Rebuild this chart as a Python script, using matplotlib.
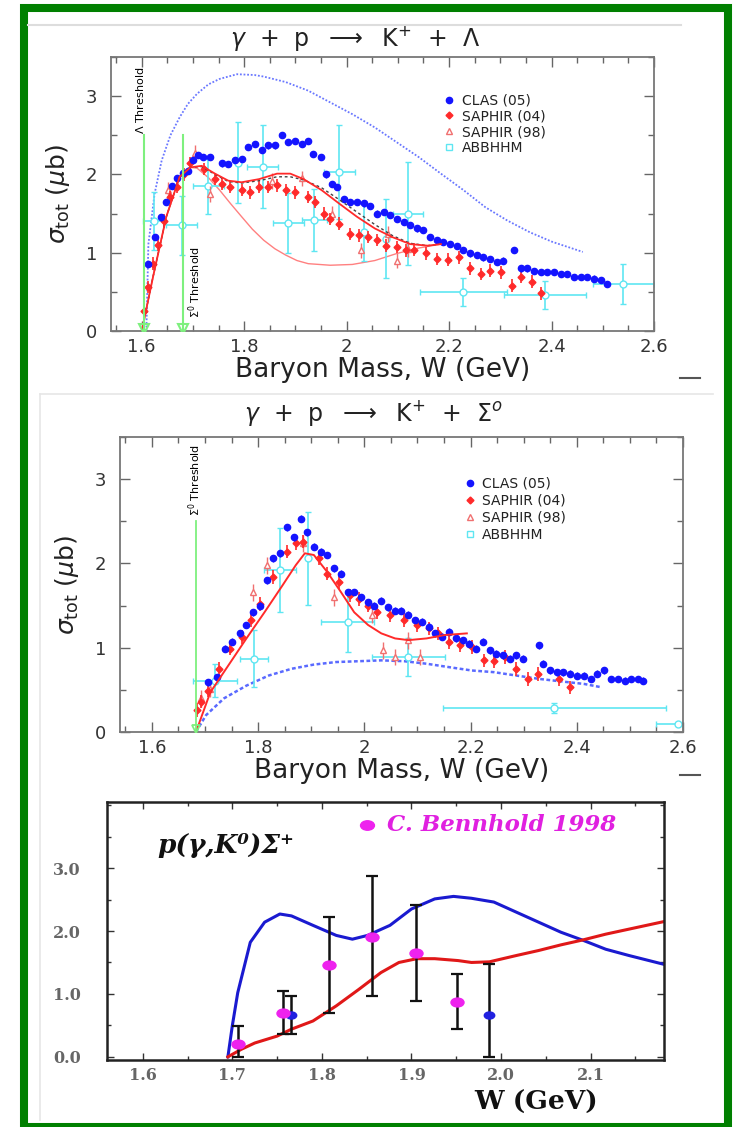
import matplotlib.pyplot as plt
from matplotlib.lines import Line2D
from matplotlib.markers import MarkerStyle
from matplotlib.patches import Rectangle
from matplotlib.ticker import MultipleLocator, FixedLocator, FuncFormatter
from matplotlib.transforms import Affine2D

W_PX, H_PX = 737, 1127

# ---------------- panel 1: gamma p -> K+ Lambda ----------------
lam_clas_w = [1.613, 1.626, 1.637, 1.648, 1.659, 1.669, 1.68, 1.69, 1.70, 1.71, 1.72, 1.734,
              1.756, 1.769, 1.782, 1.795, 1.808, 1.821, 1.834, 1.847, 1.86, 1.873, 1.886,
              1.899, 1.912, 1.925, 1.935, 1.949, 1.959, 1.972, 1.981, 1.994, 2.007, 2.02,
              2.033, 2.046, 2.059, 2.072, 2.085, 2.098, 2.111, 2.124, 2.137, 2.15, 2.163,
              2.176, 2.189, 2.202, 2.215, 2.228, 2.241, 2.254, 2.267, 2.28, 2.293, 2.306,
              2.327, 2.34, 2.353, 2.366, 2.379, 2.392, 2.405, 2.418, 2.431, 2.444, 2.457,
              2.47, 2.483, 2.496, 2.509]
lam_clas_s = [0.86, 1.2, 1.45, 1.65, 1.85, 1.95, 2.02, 2.05, 2.18, 2.25, 2.22, 2.22,
              2.14, 2.13, 2.18, 2.2, 2.35, 2.39, 2.31, 2.37, 2.37, 2.5, 2.41,
              2.43, 2.39, 2.43, 2.26, 2.22, 2.0, 1.88, 1.84, 1.69, 1.65, 1.65,
              1.63, 1.6, 1.5, 1.52, 1.48, 1.43, 1.39, 1.35, 1.31, 1.29, 1.2,
              1.16, 1.14, 1.11, 1.09, 1.03, 0.99, 0.97, 0.94, 0.92, 0.88, 0.9,
              1.03, 0.8, 0.8, 0.77, 0.75, 0.75, 0.75, 0.73, 0.73, 0.69, 0.69,
              0.69, 0.67, 0.65, 0.6]
lam_saph04_w = [1.604, 1.613, 1.622, 1.632, 1.643, 1.656, 1.669, 1.682, 1.695, 1.721, 1.743,
                1.756, 1.773, 1.795, 1.812, 1.829, 1.847, 1.864, 1.881, 1.899, 1.925, 1.938,
                1.955, 1.968, 1.985, 2.007, 2.024, 2.042, 2.059, 2.076, 2.098, 2.115, 2.132,
                2.154, 2.176, 2.197, 2.219, 2.241, 2.262, 2.28, 2.301, 2.323, 2.34, 2.362,
                2.379]
lam_saph04_s = [0.26, 0.56, 0.86, 1.1, 1.41, 1.71, 1.84, 2.0, 2.14, 2.07, 1.94,
                1.88, 1.84, 1.8, 1.77, 1.84, 1.84, 1.86, 1.8, 1.77, 1.71, 1.65,
                1.5, 1.43, 1.37, 1.24, 1.22, 1.2, 1.16, 1.09, 1.07, 1.03, 1.04,
                0.99, 0.92, 0.91, 0.94, 0.8, 0.73, 0.77, 0.75, 0.58, 0.69, 0.63,
                0.48]
lam_saph98_w = [1.652, 1.704, 1.734, 1.855, 1.912, 1.972, 2.029, 2.081, 2.098, 2.12]
lam_saph98_s = [1.8, 2.28, 1.75, 1.92, 1.95, 1.5, 1.03, 1.24, 0.9, 1.05]
lam_abb_w = [1.623, 1.678, 1.73, 1.788, 1.836, 1.886, 1.937, 1.986, 2.033, 2.077, 2.12, 2.228, 2.388, 2.54]
lam_abb_s = [1.40, 1.35, 1.85, 2.15, 2.1, 1.38, 1.42, 2.03, 1.26, 1.18, 1.5, 0.5, 0.46, 0.6]
lam_abb_werr = [0.02, 0.03, 0.03, 0.0, 0.03, 0.03, 0.025, 0.03, 0.0, 0.0, 0.03, 0.085, 0.08, 0.06]
lam_abb_serr = [0.37, 0.38, 0.35, 0.52, 0.53, 0.38, 0.4, 0.6, 0.36, 0.5, 0.66, 0.18, 0.18, 0.26]

lam_model_w = [1.609, 1.613, 1.625, 1.639, 1.656, 1.674, 1.69, 1.708, 1.73, 1.752, 1.786, 1.82,
               1.838, 1.881, 1.925, 1.968, 2.011, 2.055, 2.098, 2.141, 2.184, 2.228, 2.271,
               2.314, 2.358, 2.401, 2.461]
lam_model_s = [0.0, 1.11, 1.75, 2.18, 2.5, 2.73, 2.9, 3.03, 3.15, 3.22, 3.28, 3.27,
               3.25, 3.18, 3.07, 2.92, 2.77, 2.6, 2.41, 2.22, 2.01, 1.8, 1.58,
               1.41, 1.26, 1.14, 1.01]
lam_fit_w = [1.60, 1.622, 1.648, 1.674, 1.695, 1.717, 1.743, 1.769, 1.795, 1.829, 1.864, 1.89,
             1.916, 1.951, 1.985, 2.02, 2.055, 2.089, 2.124, 2.158, 2.184]
lam_fit_s = [0.0, 0.69, 1.46, 1.97, 2.09, 2.11, 2.01, 1.92, 1.9, 1.94, 2.01, 2.01,
             1.94, 1.8, 1.63, 1.46, 1.31, 1.2, 1.11, 1.09, 1.11]
lam_fit2_s = [0.0, 0.69, 1.46, 1.97, 2.09, 2.1, 2.0, 1.91, 1.89, 1.92, 1.97, 1.97,
              1.93, 1.83, 1.68, 1.52, 1.36, 1.22, 1.12, 1.09, 1.11]
lam_low_w = [1.60, 1.622, 1.648, 1.674, 1.695, 1.708, 1.73, 1.752, 1.773, 1.795, 1.816, 1.838,
             1.86, 1.881, 1.903, 1.925, 1.968, 2.011, 2.055, 2.098, 2.141, 2.184]
lam_low_s = [0.0, 0.69, 1.46, 1.97, 2.09, 2.08, 1.96, 1.8, 1.63, 1.46, 1.3, 1.16,
             1.05, 0.97, 0.9, 0.86, 0.84, 0.85, 0.9, 0.99, 1.06, 1.11]

# ---------------- panel 2: gamma p -> K+ Sigma0 ----------------
sig_clas_w = [1.706, 1.723, 1.737, 1.751, 1.765, 1.778, 1.791, 1.803, 1.816, 1.829, 1.842, 1.854,
              1.867, 1.88, 1.892, 1.905, 1.918, 1.93, 1.943, 1.956, 1.969, 1.981, 1.994, 2.007,
              2.019, 2.032, 2.045, 2.058, 2.07, 2.083, 2.096, 2.108, 2.121, 2.134, 2.147, 2.159,
              2.172, 2.185, 2.197, 2.21, 2.223, 2.236, 2.248, 2.261, 2.274, 2.286, 2.299, 2.329,
              2.337, 2.35, 2.363, 2.375, 2.388, 2.4, 2.414, 2.426, 2.439, 2.452, 2.464, 2.477,
              2.49, 2.503, 2.515, 2.524]
sig_clas_s = [0.59, 0.65, 0.99, 1.07, 1.17, 1.27, 1.42, 1.5, 1.8, 2.06, 2.12, 2.43,
              2.31, 2.53, 2.37, 2.2, 2.14, 2.1, 1.94, 1.88, 1.66, 1.66, 1.6, 1.54,
              1.5, 1.56, 1.48, 1.44, 1.44, 1.39, 1.33, 1.31, 1.25, 1.17, 1.13, 1.19,
              1.11, 1.09, 1.05, 0.99, 1.07, 0.97, 0.93, 0.91, 0.87, 0.91, 0.87, 1.03,
              0.81, 0.73, 0.71, 0.71, 0.69, 0.67, 0.67, 0.63, 0.69, 0.73, 0.63, 0.63,
              0.61, 0.63, 0.63, 0.61]
sig_saph04_w = [1.685, 1.693, 1.706, 1.727, 1.748, 1.769, 1.786, 1.803, 1.829, 1.854, 1.871, 1.884,
                1.914, 1.93, 1.952, 1.973, 1.99, 2.007, 2.024, 2.049, 2.075, 2.1, 2.121, 2.138,
                2.159, 2.18, 2.202, 2.225, 2.244, 2.265, 2.286, 2.308, 2.327, 2.367, 2.388]
sig_saph04_s = [0.26, 0.36, 0.49, 0.75, 0.99, 1.13, 1.33, 1.52, 1.84, 2.14, 2.24, 2.26,
                2.06, 1.88, 1.78, 1.62, 1.58, 1.5, 1.42, 1.39, 1.33, 1.27, 1.23, 1.17,
                1.07, 1.03, 1.01, 0.85, 0.84, 0.89, 0.75, 0.63, 0.69, 0.63, 0.53]
sig_saph98_w = [1.693, 1.71, 1.79, 1.816, 1.884, 1.943, 2.015, 2.036, 2.058, 2.083, 2.104]
sig_saph98_s = [0.4, 0.51, 1.66, 1.98, 2.24, 1.6, 1.39, 0.97, 0.89, 1.09, 0.89]
sig_abb_w = [1.719, 1.792, 1.842, 1.894, 1.969, 2.083, 2.358, 2.59]
sig_abb_s = [0.61, 0.87, 1.92, 2.06, 1.31, 0.89, 0.28, 0.09]
sig_abb_werr = [0.042, 0.027, 0.03, 0.0, 0.05, 0.068, 0.21, 0.04]
sig_abb_serr = [0.2, 0.34, 0.5, 0.55, 0.36, 0.22, 0.06, 0.0]

sig_fit_w = [1.683, 1.71, 1.744, 1.778, 1.812, 1.846, 1.871, 1.888, 1.905, 1.93, 1.956, 1.981,
             2.007, 2.032, 2.058, 2.083, 2.117, 2.151, 2.193]
sig_fit_s = [0.0, 0.47, 0.79, 1.11, 1.42, 1.74, 1.98, 2.12, 2.1, 1.9, 1.66, 1.42,
             1.27, 1.17, 1.11, 1.09, 1.11, 1.15, 1.17]
sig_model_w = [1.683, 1.702, 1.736, 1.778, 1.82, 1.863, 1.905, 1.947, 1.99, 2.032, 2.075, 2.117,
               2.159, 2.202, 2.244, 2.286, 2.329, 2.371, 2.414, 2.447]
sig_model_s = [0.0, 0.2, 0.4, 0.55, 0.67, 0.75, 0.8, 0.83, 0.84, 0.85, 0.84, 0.81,
               0.77, 0.73, 0.71, 0.67, 0.63, 0.6, 0.57, 0.53]

# ---------------- panel 3: p(gamma, K0) Sigma+ ----------------
k0_blue_w = [1.695, 1.70, 1.706, 1.72, 1.736, 1.753, 1.766, 1.79, 1.816, 1.834, 1.851, 1.876,
             1.90, 1.926, 1.947, 1.967, 1.992, 2.017, 2.042, 2.067, 2.092, 2.117, 2.143, 2.182]
k0_blue_s = [0.0, 0.5, 1.02, 1.82, 2.14, 2.27, 2.24, 2.09, 1.93, 1.87, 1.93, 2.09,
             2.35, 2.51, 2.55, 2.52, 2.46, 2.30, 2.14, 1.98, 1.85, 1.71, 1.61, 1.47]
k0_red_w = [1.695, 1.71, 1.725, 1.75, 1.766, 1.79, 1.816, 1.841, 1.866, 1.886, 1.906, 1.926,
            1.952, 1.967, 1.987, 2.017, 2.042, 2.067, 2.092, 2.117, 2.143, 2.182]
k0_red_s = [0.0, 0.12, 0.22, 0.33, 0.44, 0.57, 0.81, 1.07, 1.34, 1.50, 1.56, 1.56,
            1.53, 1.50, 1.51, 1.61, 1.69, 1.78, 1.86, 1.95, 2.03, 2.15]
k0_data_w = [1.706, 1.756, 1.808, 1.856, 1.905, 1.951]
k0_data_s = [0.21, 0.69, 1.46, 1.91, 1.65, 0.87]
k0_data_lo = [0.21, 0.33, 0.76, 0.94, 0.76, 0.42]
k0_data_hi = [0.28, 0.36, 0.76, 0.97, 0.76, 0.45]
k0_old_w = [1.765, 1.987]
k0_old_s = [0.66, 0.66]
k0_old_lo = [0.3, 0.66]
k0_old_hi = [0.31, 0.81]

BLUE = '#1414ff'
RED = '#ff2a2a'
CYAN = '#5fe6f2'
GREEN = '#7ef07e'
MAGENTA = '#ee22ee'
SANS = ['DejaVu Sans']
SERIF = ['DejaVu Serif']

fig = plt.figure(figsize=(W_PX / 100, H_PX / 100), dpi=100)


def px_axes(left, top, right, bottom):
    return fig.add_axes([left / W_PX, 1 - bottom / H_PX, (right - left) / W_PX, (bottom - top) / H_PX])


def fig_line(x0, y0, x1, y1, **kw):
    fig.add_artist(Line2D([x0 / W_PX, x1 / W_PX], [1 - y0 / H_PX, 1 - y1 / H_PX],
                          transform=fig.transFigure, **kw))


def style_kplus(ax):
    ax.set_xlim(1.54, 2.6)
    ax.set_ylim(0, 3.5)
    ax.xaxis.set_major_locator(MultipleLocator(0.2))
    ax.xaxis.set_minor_locator(MultipleLocator(0.05))
    ax.yaxis.set_major_locator(MultipleLocator(1))
    ax.yaxis.set_minor_locator(MultipleLocator(0.5))
    ax.xaxis.set_major_formatter(FuncFormatter(lambda v, p: f'{v:g}'))
    ax.tick_params(which='both', direction='in', top=True, right=True, color='#666', width=1)
    ax.tick_params(which='major', length=7, labelsize=13, labelcolor='#333')
    ax.tick_params(axis='y', which='major', pad=10)
    ax.tick_params(axis='x', which='major', pad=5)
    ax.tick_params(which='minor', length=4)
    for s in ax.spines.values():
        s.set_color('#777')
        s.set_linewidth(1.3)
    ax.set_xlabel('Baryon Mass, W (GeV)', fontsize=19, family=SANS, color='#222', labelpad=1)
    ax.set_ylabel(r'$\sigma_{\rm tot}$ ($\mu$b)', fontsize=18, color='#222', labelpad=10)


def plot_kplus(ax, clas_w, clas_s, s04_w, s04_s, s98_w, s98_s, abb_w, abb_s, abb_we, abb_se,
               anchor, spacing):
    ax.errorbar(abb_w, abb_s, xerr=abb_we, yerr=abb_se, fmt='o', ms=5, mfc='white', mec=CYAN,
                ecolor=CYAN, mew=1, elinewidth=1.2, capsize=2.5, zorder=2)
    ax.errorbar(s98_w, s98_s, yerr=0.1, fmt='^', ms=4, mfc='white', mec='#f07070', ecolor='#f07070',
                elinewidth=1, zorder=3)
    ax.errorbar(s04_w, s04_s, yerr=0.08, fmt='D', ms=3.5, color=RED, ecolor=RED,
                elinewidth=1.2, zorder=4)
    ax.errorbar(clas_w, clas_s, yerr=0.04, fmt='o', ms=4.5, color=BLUE, ecolor=BLUE,
                elinewidth=1, zorder=5)
    handles = [Line2D([], [], ls='none', marker='o', ms=4.5, color=BLUE),
               Line2D([], [], ls='none', marker='D', ms=3.5, color=RED),
               Line2D([], [], ls='none', marker='^', ms=4, mfc='white', mec='#f07070'),
               Line2D([], [], ls='none', marker='s', ms=4, mfc='white', mec=CYAN)]
    labels = ['CLAS (05)', 'SAPHIR (04)', 'SAPHIR (98)', 'ABBHHM']
    ax.legend(handles, labels, loc='upper left', bbox_to_anchor=anchor, frameon=False,
              prop={'family': SANS, 'size': 10}, handlelength=0.8, handletextpad=0.5,
              labelspacing=spacing, borderpad=0, labelcolor='#222')


# ---------------- frame ----------------
fig.add_artist(Rectangle((24 / W_PX, 1 - 1127 / H_PX), (728 - 24) / W_PX, (1127 - 8) / H_PX,
                         transform=fig.transFigure, fill=False, edgecolor='#008000', linewidth=5.8))
fig_line(28, 25, 681, 25, color='#dddddd', lw=1.5)
fig_line(40, 394, 713, 394, color='#e6e6e6', lw=1.2)
fig_line(40, 394, 40, 1120, color='#e6e6e6', lw=1.2)

# ---------------- panel 1 ----------------
ax1 = px_axes(111, 57, 654, 331)
style_kplus(ax1)
ax1.plot(lam_model_w, lam_model_s, color='#6a78ff', ls=(0, (1, 1)), lw=1.3, zorder=1)
ax1.plot(lam_low_w, lam_low_s, color='#ff8080', lw=1, zorder=1)
plot_kplus(ax1, lam_clas_w, lam_clas_s, lam_saph04_w, lam_saph04_s, lam_saph98_w, lam_saph98_s,
           lam_abb_w, lam_abb_s, lam_abb_werr, lam_abb_serr, (0.6, 0.892), 0.13)
ax1.plot(lam_fit_w, lam_fit2_s, color='#444', ls=(0, (2, 2)), lw=1, zorder=6)
ax1.plot(lam_fit_w, lam_fit_s, color=RED, lw=1.3, zorder=6)
for x in [1.605, 1.68]:
    ax1.plot([x, x], [0, 2.5], color=GREEN, lw=1.5, zorder=7)
    ax1.plot(x, 0.03, marker='v', ms=7, mfc='none', mec=GREEN, mew=1.5, zorder=7)
ax1.text(1.597, 2.95, r'$\Lambda$ Threshold', rotation=90, ha='center', va='center',
         fontsize=8, family=SANS)
ax1.text(1.704, 0.62, r'$\Sigma^0$ Threshold', rotation=90, ha='center', va='center',
         fontsize=8, family=SANS)
ax1.text(0.45, 1.07, r'$\gamma$  +  p  $\longrightarrow$  K$^{+}$  +  $\Lambda$', transform=ax1.transAxes,
         ha='center', va='center', fontsize=17, family=SANS, color='#222')
fig_line(680, 378, 700, 378, color='#555', lw=1.5)

# ---------------- panel 2 ----------------
ax2 = px_axes(120, 437, 683, 732)
style_kplus(ax2)
ax2.plot(sig_model_w, sig_model_s, color='#5a6aff', ls=(0, (1.5, 1)), lw=1.8, zorder=1)
plot_kplus(ax2, sig_clas_w, sig_clas_s, sig_saph04_w, sig_saph04_s, sig_saph98_w, sig_saph98_s,
           sig_abb_w, sig_abb_s, sig_abb_werr, sig_abb_serr, (0.599, 0.89), 0.22)
ax2.plot(sig_fit_w, sig_fit_s, color=RED, lw=1.4, zorder=6)
ax2.plot([1.683, 1.683], [0, 2.5], color=GREEN, lw=1.3, zorder=7)
ax2.plot(1.683, 0.03, marker='v', ms=6, mfc='none', mec=GREEN, mew=1.3, zorder=7)
ax2.text(1.681, 2.99, r'$\Sigma^0$ Threshold', rotation=90, ha='center', va='center',
         fontsize=8, family=SANS)
ax2.text(0.45, 1.083, r'$\gamma$  +  p  $\longrightarrow$  K$^{+}$  +  $\Sigma^{o}$', transform=ax2.transAxes,
         ha='center', va='center', fontsize=17, family=SANS, color='#222')
fig_line(680, 775, 700, 775, color='#555', lw=1.5)

# ---------------- panel 3 ----------------
ax3 = px_axes(107, 802, 664, 1060)
ax3.set_xlim(1.56, 2.182)
ax3.set_ylim(-0.05, 4.05)
ax3.xaxis.set_major_locator(MultipleLocator(0.1))
ax3.xaxis.set_minor_locator(MultipleLocator(0.05))
ax3.yaxis.set_major_locator(FixedLocator([0, 1, 2, 3]))
ax3.yaxis.set_minor_locator(MultipleLocator(0.5))
ax3.xaxis.set_major_formatter(FuncFormatter(lambda v, p: f'{v:.1f}'))
ax3.yaxis.set_major_formatter(FuncFormatter(lambda v, p: f'{v:.1f}'))
ax3.tick_params(which='both', direction='in', top=True, right=True, color='#333', width=1)
ax3.tick_params(which='major', length=5, labelsize=11.5, labelcolor='#666')
ax3.tick_params(axis='y', which='major', pad=19)
ax3.tick_params(axis='x', which='major', pad=5)
ax3.tick_params(which='minor', length=3)
for lab in ax3.get_xticklabels() + ax3.get_yticklabels():
    lab.set_family(SERIF)
    lab.set_weight('bold')
for s in ax3.spines.values():
    s.set_color('#222')
    s.set_linewidth(1.8)
ellipse = MarkerStyle('o', transform=Affine2D().scale(1.25, 0.85))
ax3.plot(k0_blue_w, k0_blue_s, color='#1a1ad0', lw=2.2)
ax3.plot(k0_red_w, k0_red_s, color='#e01818', lw=2.2)
ax3.errorbar(k0_data_w, k0_data_s, yerr=[k0_data_lo, k0_data_hi], fmt='none', ecolor='#111',
             elinewidth=1.8, capsize=4, capthick=1.6, zorder=3)
ax3.errorbar(k0_old_w, k0_old_s, yerr=[k0_old_lo, k0_old_hi], fmt='none', ecolor='#111',
             elinewidth=1.8, capsize=4, capthick=1.6, zorder=3)
ax3.plot(k0_old_w, k0_old_s, ls='none', marker=ellipse, color='#2020e0', ms=6, zorder=4)
ax3.plot(k0_data_w, k0_data_s, ls='none', marker=ellipse, color=MAGENTA, ms=7.5, zorder=5)
ax3.plot([0.467], [0.911], ls='none', marker=ellipse, color=MAGENTA, ms=8, transform=ax3.transAxes)
ax3.text(0.502, 0.911, 'C. Bennhold 1998', transform=ax3.transAxes, color='#e020e0', fontsize=16.5,
         family=SERIF, weight='bold', style='italic', va='center')
ax3.text(0.09, 0.83, 'p(γ,K⁰)Σ⁺', transform=ax3.transAxes, color='#111', fontsize=19,
         family=SERIF, weight='bold', style='italic', va='center')
ax3.text(0.77, -0.165, 'W (GeV)', transform=ax3.transAxes, color='#111', fontsize=19,
         family=SERIF, weight='bold', ha='center', va='center')

fig.savefig('out.png', dpi=100)
